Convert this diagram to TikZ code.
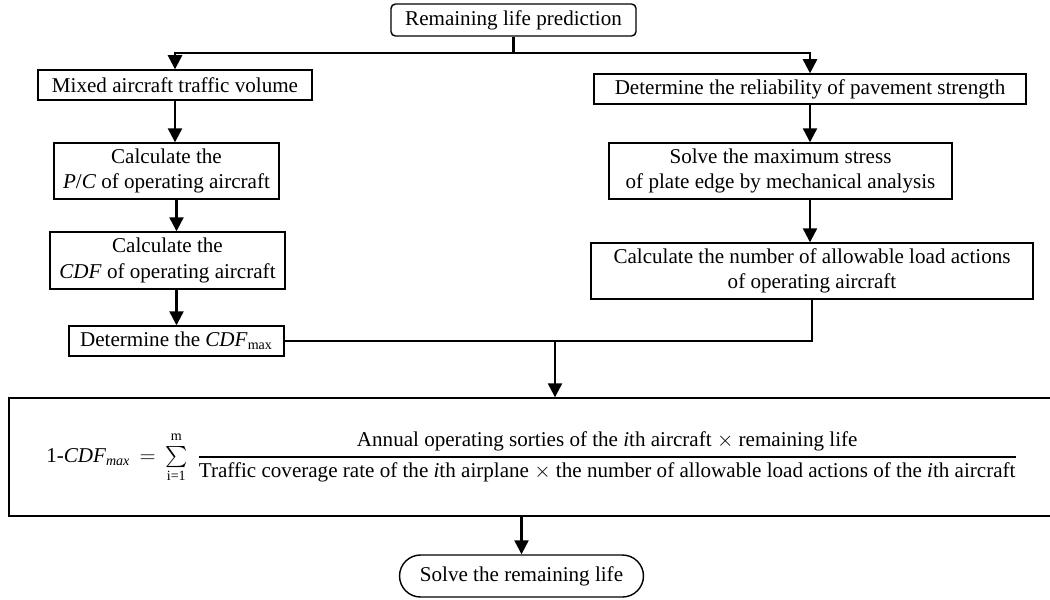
\documentclass[tikz,border=0pt]{standalone}
\usepackage{amsmath}
\usepackage{fontspec}
\setmainfont{Liberation Serif}
\usetikzlibrary{arrows.meta,shapes.misc}

\begin{document}
\begin{tikzpicture}[x=0.02cm, y=-0.02cm,
    every node/.style={font=\fontsize{12}{14.6}\selectfont, inner sep=2pt},
    box/.style={draw, line width=0.8pt, align=center},
    link/.style={line width=1.3pt, -{Triangle[width=8pt,length=8pt]}},
    joint/.style={line width=1.3pt}]
        \useasboundingbox (0,0) rectangle (1050,599);
        % top and left branch
        \node[box, rounded corners=2.5pt, minimum width=4.9cm, minimum height=0.64cm] (top) at (513.5,20) {Remaining life prediction};
        \node[box, minimum width=5.48cm, minimum height=0.6cm] (mix) at (175,85) {Mixed aircraft traffic volume};
        \node[box, minimum width=4.5cm, minimum height=1.12cm] (pc) at (166.5,171) {Calculate the\\\textit{P}/\textit{C} of operating aircraft};
        \node[box, minimum width=4.7cm, minimum height=1.14cm] (cdf) at (167.5,260.5) {Calculate the\\\textit{CDF} of operating aircraft};
        \node[box, minimum width=4.3cm, minimum height=0.6cm] (cdfmax) at (176.5,341) {Determine the \textit{CDF}\textsubscript{max}};
        % right branch
        \node[box, minimum width=8.64cm, minimum height=0.6cm] (rel) at (810,89) {Determine the reliability of pavement strength};
        \node[box, minimum width=6.86cm, minimum height=1.12cm] (stress) at (780.5,171) {Solve the maximum stress\\of plate edge by mechanical analysis};
        \node[box, minimum width=8.84cm, minimum height=1.12cm] (allow) at (812,271) {Calculate the number of allowable load actions\\of operating aircraft};
        % formula and result
        \node[box, minimum width=20.92cm, minimum height=2.36cm] (eqn) at (532,457)
            {$\displaystyle \text{1-}\textit{CDF}_{\textit{max}} \,=\, {\textstyle\sum\limits_{\text{i=1}}^{\text{m}\rule[-2pt]{0pt}{2pt}}}\;\,
            \genfrac{}{}{0.9pt}{0}{\text{Annual operating sorties of the \textit{i}th aircraft $\times$ remaining life}}
                 {\text{Traffic coverage rate of the \textit{i}th airplane $\times$ the number of allowable load actions of the \textit{i}th aircraft}}$};
        \node[draw, line width=0.8pt, rounded rectangle, minimum width=5.02cm, minimum height=0.84cm] (solve) at (521.5,576) {Solve the remaining life};
        % connectors
        \coordinate (split) at (513.5,53);
        \coordinate (merge) at (555,341);
        \draw[joint] (top.south) -- (split);
        \draw[link] (split) -| (mix.north);
        \draw[link] (split) -| (rel.north);
        \draw[link] (mix.south) -- (mix.south |- pc.north);
        \draw[link] (cdfmax.north |- pc.south) -- (cdfmax.north |- cdf.north);
        \draw[link] (cdfmax.north |- cdf.south) -- (cdfmax.north);
        \draw[link] (rel.south) -- (rel.south |- stress.north);
        \draw[link] (rel.south |- stress.south) -- (rel.south |- allow.north);
        \draw[joint] (allow.south) |- (merge);
        \draw[joint] (cdfmax.east) -- (merge);
        \draw[link] (merge) -- (merge |- eqn.north);
        \draw[link] (solve.north |- eqn.south) -- (solve.north);
    \end{tikzpicture}
\end{document}
